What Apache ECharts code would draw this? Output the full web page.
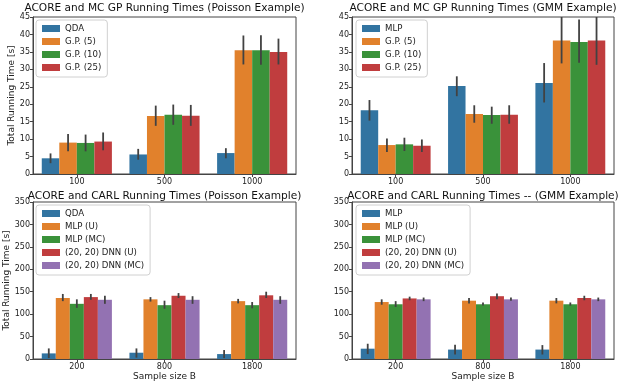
<!DOCTYPE html>
<html lang="en">
<head>
    <meta charset="UTF-8">
    <title>ACORE running times</title>
    <script src="https://cdn.jsdelivr.net/npm/echarts@6/dist/echarts.min.js"></script>
    <style>
        html, body { margin: 0; padding: 0; background: #fff; }
        #main { width: 644px; height: 386px; }
    </style>
</head>
<body>
<div id="main"></div>
<script type="text/javascript">
    // categories
    var catsTop = ['100', '500', '1000'];
    var catsBottom = ['200', '800', '1800'];

    // panel 1: Poisson, GP
    var p1Names = ['QDA', 'G.P. (5)', 'G.P. (10)', 'G.P. (25)'];
    var p1Vals = [[4.5, 5.6, 6.0], [9.0, 16.6, 35.5], [8.9, 17.0, 35.5], [9.3, 16.7, 35.0]];
    var p1Lo = [[3.1, 4.1, 4.5], [6.5, 13.8, 31.4], [6.5, 14.1, 31.3], [6.8, 13.8, 31.4]];
    var p1Hi = [[5.9, 7.2, 7.4], [11.5, 19.6, 39.7], [11.3, 19.9, 39.8], [11.9, 19.8, 38.8]];

    // panel 2: GMM, GP
    var p2Names = ['MLP', 'G.P. (5)', 'G.P. (10)', 'G.P. (25)'];
    var p2Vals = [[18.3, 25.2, 26.1], [8.3, 17.2, 38.3], [8.5, 16.9, 37.8], [8.1, 17.0, 38.3]];
    var p2Lo = [[15.3, 22.3, 20.5], [6.3, 14.7, 31.7], [6.6, 14.4, 31.9], [6.3, 14.4, 31.3]];
    var p2Hi = [[21.2, 28.0, 31.8], [10.2, 19.7, 45], [10.4, 19.3, 44.3], [9.9, 19.7, 45]];

    // panel 3: Poisson, CARL
    var p3Names = ['QDA', 'MLP (U)', 'MLP (MC)', '(20, 20) DNN (U)', '(20, 20) DNN (MC)'];
    var p3Vals = [[12.5, 14, 11], [136, 133, 129], [123, 120, 120], [138, 141, 142], [132, 132, 132]];
    var p3Lo = [[2, 3, 2], [129, 128, 124], [114, 112, 113], [132, 136, 136], [123, 123, 123]];
    var p3Hi = [[23.6, 23.6, 20], [145, 138, 134], [133, 130, 127], [145, 147, 150], [141, 140, 140]];

    // panel 4: GMM, CARL
    var p4Names = ['MLP', 'MLP (U)', 'MLP (MC)', '(20, 20) DNN (U)', '(20, 20) DNN (MC)'];
    var p4Vals = [[23, 21, 21], [127, 130, 130], [122, 122, 122], [135, 140, 136], [133, 133, 133]];
    var p4Lo = [[11, 10, 10], [121, 124, 124], [116, 119, 119], [131, 133, 131], [129, 130, 129]];
    var p4Hi = [[34, 32, 31], [133, 136, 136], [129, 126, 126], [139, 146, 141], [137, 137, 137]];

    var colors = ['#3274a1', '#e1812c', '#3a923a', '#c03d3e', '#9372b2'];
    var font = 'DejaVu Sans';

    var panels = [
        {names: p1Names, vals: p1Vals, lo: p1Lo, hi: p1Hi, cats: catsTop, max: 45, step: 5,
            title: 'ACORE and MC GP Running Times (Poisson Example)', ylab: 'Total Running Time [s]', xlab: '',
            grid: {left: 33, top: 17, width: 263, height: 157}, titleTop: 3, legendPos: {left: 36, top: 20}},
        {names: p2Names, vals: p2Vals, lo: p2Lo, hi: p2Hi, cats: catsTop, max: 45, step: 5,
            title: 'ACORE and MC GP Running Times (GMM Example)', ylab: '', xlab: '',
            grid: {left: 352, top: 17, width: 262, height: 157}, titleTop: 3, legendPos: {left: 356, top: 20}},
        {names: p3Names, vals: p3Vals, lo: p3Lo, hi: p3Hi, cats: catsBottom, max: 350, step: 50,
            title: 'ACORE and CARL Running Times (Poisson Example)', ylab: 'Total Running Time [s]', xlab: 'Sample size B',
            grid: {left: 33, top: 202, width: 263, height: 157}, titleTop: 191, legendPos: {left: 36, top: 205}},
        {names: p4Names, vals: p4Vals, lo: p4Lo, hi: p4Hi, cats: catsBottom, max: 350, step: 50,
            title: 'ACORE and CARL Running Times -- (GMM Example)', ylab: '', xlab: 'Sample size B',
            grid: {left: 352, top: 202, width: 262, height: 157}, titleTop: 191, legendPos: {left: 356, top: 205}}
    ];

    var grids = [], xAxes = [], yAxes = [], series = [], legends = [], titles = [];

    panels.forEach(function (p, k) {
        grids.push(Object.assign({show: true, borderColor: '#444', borderWidth: 1, containLabel: false}, p.grid));
        titles.push({
            text: p.title,
            left: p.grid.left + p.grid.width / 2,
            top: p.titleTop,
            padding: 0,
            textAlign: 'center',
            textStyle: {fontFamily: font, fontSize: 10.6, fontWeight: 'normal', color: '#111'}
        });
        xAxes.push({
            type: 'category', gridIndex: k, data: p.cats,
            axisLine: {lineStyle: {color: '#444'}},
            axisTick: {show: true, length: 3, alignWithLabel: true, lineStyle: {color: '#444'}},
            axisLabel: {fontFamily: font, fontSize: 8, color: '#222', margin: 4},
            name: p.xlab, nameLocation: 'middle', nameGap: 12,
            nameTextStyle: {fontFamily: font, fontSize: 9, color: '#222'}
        });
        yAxes.push({
            type: 'value', gridIndex: k, min: 0, max: p.max, interval: p.step,
            splitLine: {show: false},
            axisLine: {show: true, lineStyle: {color: '#444'}},
            axisTick: {show: true, length: 3, lineStyle: {color: '#444'}},
            axisLabel: {fontFamily: font, fontSize: 8, color: '#222', margin: 3},
            name: p.ylab, nameLocation: 'middle', nameGap: 7, nameRotate: 90,
            nameTextStyle: {fontFamily: font, fontSize: 9, color: '#222'}
        });
        var n = p.names.length;
        p.names.forEach(function (name, i) {
            series.push({
                name: name, type: 'bar', xAxisIndex: k, yAxisIndex: k,
                data: p.vals[i], barGap: '0%', barCategoryGap: '20%',
                itemStyle: {color: colors[i]}, silent: true
            });
        });
        // error bars, shifted to sit on their bar in the group
        p.names.forEach(function (name, i) {
            var data = p.cats.map(function (c, j) { return [j, p.lo[i][j], p.hi[i][j]]; });
            series.push({
                name: 'err' + k + '_' + i, type: 'custom', xAxisIndex: k, yAxisIndex: k,
                silent: true, z: 5,
                data: data,
                renderItem: function (params, api) {
                    var band = api.size([1, 0])[0];
                    var bw = band * 0.8 / n;
                    var off = (i - (n - 1) / 2) * bw;
                    var a = api.coord([api.value(0), api.value(1)]);
                    var b = api.coord([api.value(0), api.value(2)]);
                    return {
                        type: 'line',
                        shape: {x1: a[0] + off, y1: a[1], x2: b[0] + off, y2: b[1]},
                        style: {stroke: '#424242', lineWidth: 1.8}
                    };
                }
            });
        });
        legends.push({
            data: p.names, orient: 'vertical',
            left: p.legendPos.left, top: p.legendPos.top,
            icon: 'rect', itemWidth: 18, itemHeight: 7, itemGap: 0,
            padding: [2, 6, 3, 6],
            backgroundColor: 'rgba(255,255,255,0.85)',
            borderColor: '#d0d0d0', borderWidth: 1, borderRadius: 3,
            selectedMode: false,
            textStyle: {fontFamily: font, fontSize: 8.6, color: '#222', lineHeight: 13}
        });
    });

    var myChart = echarts.init(document.getElementById('main'));
    myChart.setOption({
        animation: false,
        backgroundColor: '#fff',
        title: titles,
        grid: grids,
        xAxis: xAxes,
        yAxis: yAxes,
        legend: legends,
        series: series
    });
</script>
</body>
</html>
